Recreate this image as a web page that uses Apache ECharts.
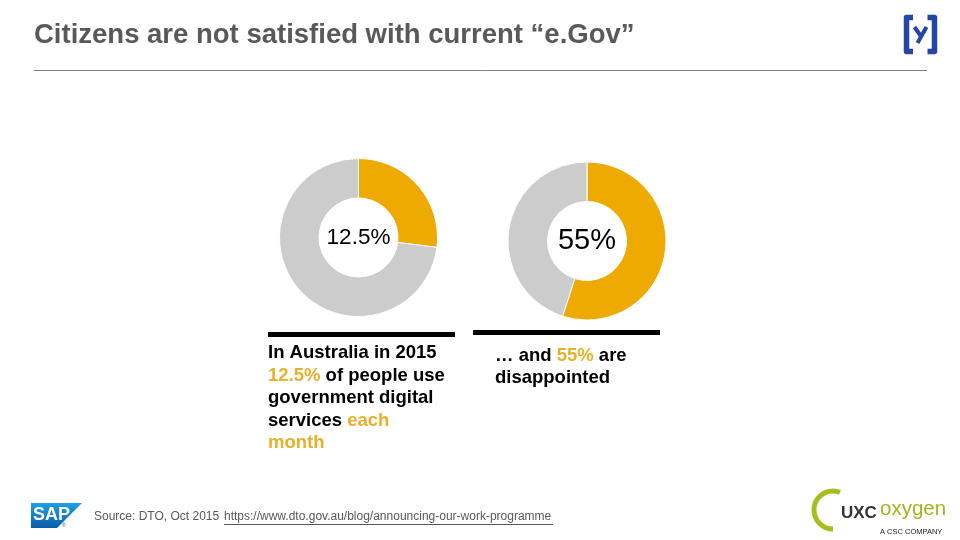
<!DOCTYPE html>
<html>
<head>
<meta charset="utf-8">
<script src="https://cdn.jsdelivr.net/npm/echarts@6/dist/echarts.min.js"></script>
<style>
html,body{margin:0;padding:0;background:#fff;}
#chart{width:960px;height:540px;}
</style>
</head>
<body>
<div id="chart"></div>
<script>
// ---- data ----
const titleText = 'Citizens are not satisfied with current \u201Ce.Gov\u201D';
const donutLabels = ['12.5%', '55%'];
const highlightShare = [27, 55];   // yellow slice, as drawn
const restShare = [73, 45];        // grey remainder
const sliceNames = ['Highlighted', 'Other'];
const sourcePrefix = 'Source: DTO, Oct 2015 ';
const sourceLink = 'https://www.dto.gov.au/blog/announcing-our-work-programme';

const YELLOW = '#EEAA00';
const GREY = '#CCCCCC';
const TEXT_YELLOW = '#E9B02A';
const BLUE = '#2446A6';
const FONT = 'Liberation Sans, Arial, sans-serif';

const centers = [[358.5, 237.5], [587, 241]];
const labelSizes = [22.5, 29];

const chart = echarts.init(document.getElementById('chart'), null, {renderer: 'canvas'});

const series = donutLabels.map((lbl, i) => ({
  type: 'pie',
  center: centers[i],
  radius: [39.5, 79],
  startAngle: 90,
  clockwise: true,
  silent: true,
  avoidLabelOverlap: false,
  itemStyle: {borderColor: '#fff', borderWidth: 1},
  labelLine: {show: false},
  label: {show: false},
  data: [
    {name: sliceNames[0], value: highlightShare[i], itemStyle: {color: YELLOW},
     label: {show: true, position: 'center', formatter: () => lbl,
             fontFamily: FONT, fontSize: labelSizes[i], color: '#000', fontWeight: 'normal'}},
    {name: sliceNames[1], value: restShare[i], itemStyle: {color: GREY}}
  ]
}));

const capStyle = {
  fontFamily: FONT, fontSize: 18.5, fontWeight: 'bold', fill: '#000', lineHeight: 22.5,
  rich: {y: {fill: TEXT_YELLOW, fontFamily: FONT, fontSize: 18.5, fontWeight: 'bold', lineHeight: 22.5}}
};

const option = {
  backgroundColor: '#fff',
  animation: false,
  title: {
    text: titleText,
    left: 34, top: 21, padding: 0,
    textStyle: {fontFamily: FONT, fontSize: 27.5, fontWeight: 'bold', color: '#595959'}
  },
  series: series,
  graphic: [
    // header rule
    {type: 'line', shape: {x1: 34, y1: 70.5, x2: 927, y2: 70.5}, style: {stroke: '#7f7f7f', lineWidth: 1}},
    // top-right logo: brackets
    {type: 'polyline', shape: {points: [[913, 17.5], [906.5, 17.5], [906.5, 51.5], [913, 51.5]]},
     style: {stroke: BLUE, lineWidth: 5.5, fill: null, lineJoin: 'round'}},
    {type: 'polyline', shape: {points: [[927.5, 17.5], [934.5, 17.5], [934.5, 51.5], [927.5, 51.5]]},
     style: {stroke: BLUE, lineWidth: 5.5, fill: null, lineJoin: 'round'}},
    {type: 'line', shape: {x1: 914.5, y1: 27, x2: 921.5, y2: 37}, style: {stroke: BLUE, lineWidth: 4}},
    {type: 'line', shape: {x1: 926.5, y1: 27, x2: 917.5, y2: 43}, style: {stroke: BLUE, lineWidth: 4}},
    // caption bars
    {type: 'rect', shape: {x: 268, y: 332, width: 187, height: 5}, style: {fill: '#000'}},
    {type: 'rect', shape: {x: 473, y: 330, width: 187, height: 5}, style: {fill: '#000'}},
    // captions
    {type: 'text', x: 268, y: 342, style: Object.assign({
      text: 'In Australia in 2015\n{y|12.5%} of people use\ngovernment digital\nservices {y|each}\n{y|month}'}, capStyle)},
    {type: 'text', x: 495, y: 344.5, style: Object.assign({
      text: '\u2026 and {y|55%} are\ndisappointed'}, capStyle)},
    // SAP logo
    {type: 'polygon', shape: {points: [[31, 503], [82, 503], [57, 528], [31, 528]]},
     style: {fill: {type: 'linear', x: 0, y: 0, x2: 0, y2: 1, colorStops: [{offset: 0, color: '#1DA1E2'}, {offset: 1, color: '#0B5CAB'}]}}},
    {type: 'text', x: 33, y: 506, style: {text: 'SAP', fontFamily: FONT, fontSize: 18, fontWeight: 'bold', fill: '#fff'}},
    {type: 'text', x: 62, y: 523, style: {text: '\u00AE', fontFamily: FONT, fontSize: 5, fill: '#0B5CAB'}},
    // source
    {type: 'text', x: 94, y: 511, style: {text: sourcePrefix, fontFamily: FONT, fontSize: 12, fill: '#595959'}},
    {type: 'text', x: 224, y: 511, style: {text: sourceLink, fontFamily: FONT, fontSize: 12, fill: '#595959'}},
    {type: 'line', shape: {x1: 224, y1: 524.5, x2: 553, y2: 524.5}, style: {stroke: '#595959', lineWidth: 1}},
    // UXC oxygen logo
    {type: 'arc', shape: {cx: 833, cy: 510, r: 19, startAngle: Math.PI * 0.5, endAngle: Math.PI * 1.62, clockwise: true},
     style: {stroke: '#A8BE1E', lineWidth: 5, fill: null}},
    {type: 'text', x: 841, y: 505, style: {text: 'UXC', fontFamily: FONT, fontSize: 17, fontWeight: 'bold', fill: '#333'}},
    {type: 'text', x: 880, y: 499, style: {text: 'oxygen', fontFamily: FONT, fontSize: 20.5, fill: '#A0B81C'}},
    {type: 'text', x: 880, y: 527.5, style: {text: 'A CSC COMPANY', fontFamily: FONT, fontSize: 7.5, fill: '#222'}}
  ]
};
chart.setOption(option);
</script>
</body>
</html>
